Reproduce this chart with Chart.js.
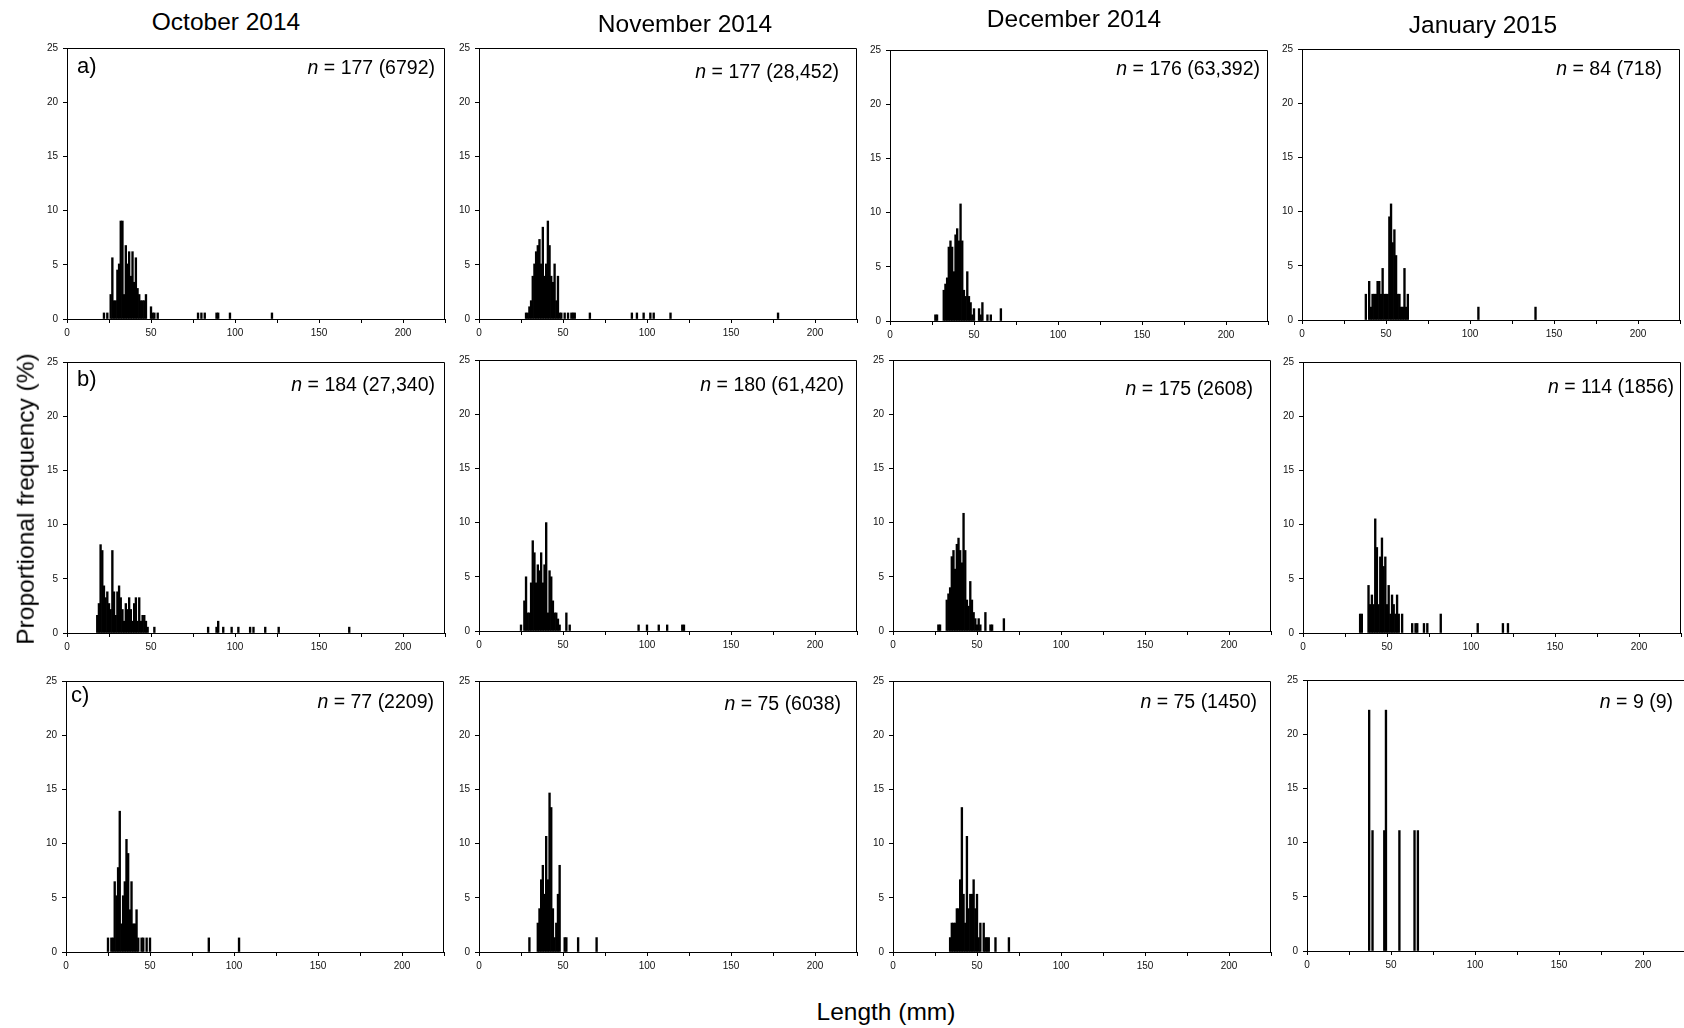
<!DOCTYPE html>
<html lang="en">
<head>
<meta charset="UTF-8">
<title>Length frequency distributions</title>
<script src="https://cdn.jsdelivr.net/npm/chart.js"></script>
<style>
  html, body { margin: 0; padding: 0; background: #fff; overflow: hidden; }
  body { width: 1684px; height: 1028px; position: relative; font-family: "Liberation Sans", Arial, sans-serif; color: #000; }
  canvas { position: absolute; }
  .txt { position: absolute; white-space: nowrap; line-height: 1; }
  .title { font-size: 24.5px; transform: translate(-50%, -50%); }
  .nlab { font-size: 19.5px; transform: translate(-100%, -50%); }
  .plab { font-size: 22px; transform: translateY(-50%); }
  .ylab { font-size: 24.5px; transform: translate(-50%, -50%) rotate(-90deg); }
  .xlab { font-size: 24.5px; transform: translate(-50%, -50%); }
</style>
</head>
<body>

<script>
// ---- data: length class (mm) and proportional frequency (%) per panel ----
const months = ['October 2014', 'November 2014', 'December 2014', 'January 2015'];
const rowLetters = ['a)', 'b)', 'c)'];
const nText = [
  ['177 (6792)', '177 (28,452)', '176 (63,392)', '84 (718)'],
  ['184 (27,340)', '180 (61,420)', '175 (2608)', '114 (1856)'],
  ['77 (2209)', '75 (6038)', '75 (1450)', '9 (9)']
];
const yTicks = [0, 5, 10, 15, 20, 25];
const xTickLabels = [0, 50, 100, 150, 200];

// row a)
const lenOctA = [22,24,26,27,28,29,30,31,32,33,34,35,36,37,38,39,40,41,42,43,44,45,46,47,50,51,52,54,78,80,82,89,90,97,122];
const pctOctA = [0.56,0.56,2.26,5.65,1.69,1.69,4.52,5.08,9.04,9.04,2.26,6.78,5.08,6.21,3.95,6.21,3.39,5.65,2.82,2.26,1.69,1.69,1.69,2.26,1.13,0.56,0.56,0.56,0.56,0.56,0.56,0.56,0.56,0.56,0.56];
const lenNovA = [28,29,30,31,32,33,34,35,36,37,38,39,40,41,42,43,44,45,46,47,48,49,51,53,55,56,57,66,91,94,98,102,104,114,178];
const pctNovA = [0.56,0.56,1.13,1.69,3.95,5.08,6.21,6.78,7.34,5.08,8.47,3.95,5.08,9.04,6.78,3.95,3.39,5.08,1.69,3.95,0.56,0.56,0.56,0.56,0.56,0.56,0.56,0.56,0.56,0.56,0.56,0.56,0.56,0.56,0.56];
const lenDecA = [27,28,32,33,34,35,36,37,38,39,40,41,42,43,44,45,46,47,48,49,50,53,54,55,58,60,66];
const pctDecA = [0.57,0.57,2.84,3.41,3.98,6.82,7.39,6.82,4.55,7.95,8.52,7.39,10.8,7.39,2.84,2.27,4.55,2.27,1.70,0.57,1.14,1.14,0.57,1.70,0.57,0.57,1.14];
const lenJanA = [38,40,41,42,43,44,45,46,47,48,49,50,51,52,53,54,55,56,57,58,59,60,61,62,63,105,139];
const pctJanA = [2.38,3.57,1.19,2.38,2.38,2.38,3.57,3.57,2.38,4.76,2.38,2.38,2.38,9.52,10.71,7.14,8.33,5.95,2.38,2.38,1.19,1.19,4.76,1.19,2.38,1.19,1.19];

// row b)
const lenOctB = [18,19,20,21,22,23,24,25,26,27,28,29,30,31,32,33,34,35,36,37,38,39,40,41,42,43,44,45,46,47,48,52,84,89,90,93,98,102,109,111,118,126,168];
const pctOctB = [1.63,2.72,8.15,7.61,4.35,3.26,3.80,2.72,2.17,7.61,3.80,1.63,3.80,4.35,3.26,2.17,1.09,2.72,2.17,3.26,2.17,1.09,2.72,3.26,1.09,3.26,1.09,1.63,1.63,1.09,0.54,0.54,0.54,0.54,1.09,0.54,0.54,0.54,0.54,0.54,0.54,0.54,0.54];
const lenNovB = [25,27,28,29,30,31,32,33,34,35,36,37,38,39,40,41,42,43,44,45,46,47,48,52,54,95,100,107,112,121,122];
const pctNovB = [0.56,2.78,5.00,1.67,1.67,4.44,8.33,7.22,4.44,6.11,5.56,7.22,4.44,6.11,10.0,1.67,5.56,5.00,2.78,1.67,1.67,1.11,0.56,1.67,0.56,0.56,0.56,0.56,0.56,0.56,0.56];
const lenDecB = [27,28,32,33,34,35,36,37,38,39,40,41,42,43,44,45,46,47,48,49,50,51,52,55,58,59,66];
const pctDecB = [0.57,0.57,2.86,3.43,4.00,6.86,7.43,5.71,8.00,8.57,7.43,6.29,10.86,7.43,2.86,2.29,4.57,2.86,1.71,1.14,0.57,1.14,0.57,1.71,0.57,0.57,1.14];
const lenJanB = [34,35,39,40,41,42,43,44,45,46,47,48,49,50,51,52,53,54,55,56,57,59,65,67,68,72,74,82,104,119,122];
const pctJanB = [1.75,1.75,4.39,2.63,3.51,2.63,10.53,7.89,2.63,7.02,8.77,6.14,7.02,2.63,4.39,1.75,3.51,2.63,1.75,3.51,1.75,1.75,0.88,0.88,0.88,0.88,0.88,1.75,0.88,0.88,0.88];

// row c)
const lenOctC = [25,27,28,29,30,31,32,33,34,35,36,37,38,39,40,41,42,43,45,46,48,50,85,103];
const pctOctC = [1.30,1.30,1.30,6.49,5.19,7.79,12.99,2.60,5.19,6.49,10.39,9.09,3.90,6.49,2.60,2.60,3.90,1.30,1.30,1.30,1.30,1.30,1.30,1.30];
const lenNovC = [30,35,36,37,38,39,40,41,42,43,44,45,46,47,48,51,52,59,70];
const pctNovC = [1.33,2.67,4.00,6.67,8.00,5.33,10.67,6.67,14.67,13.33,4.00,1.33,2.67,5.33,8.00,1.33,1.33,1.33,1.33];
const lenDecC = [34,35,36,37,38,39,40,41,42,43,44,45,46,47,48,49,50,51,52,54,55,56,57,61,69];
const pctDecC = [1.33,2.67,2.67,2.67,4.00,4.00,6.67,13.33,5.33,2.67,10.67,4.00,5.33,5.33,6.67,4.00,5.33,1.33,2.67,2.67,1.33,1.33,1.33,1.33,1.33];
const lenJanC = [37,39,46,47,55,64,66];
const pctJanC = [22.22,11.11,11.11,22.22,11.11,11.11,11.11];

const lens = [[lenOctA, lenNovA, lenDecA, lenJanA], [lenOctB, lenNovB, lenDecB, lenJanB], [lenOctC, lenNovC, lenDecC, lenJanC]];
const pcts = [[pctOctA, pctNovA, pctDecA, pctJanA], [pctOctB, pctNovB, pctDecB, pctJanB], [pctOctC, pctNovC, pctDecC, pctJanC]];

// ---- layout (page pixels) ----
const plotLeft = [[67, 479, 890, 1302], [67, 479, 893, 1303], [66, 479, 893, 1307]];
const plotBottom = [[319, 319, 321, 320], [633, 631, 631, 633], [952, 952, 952, 951]];
const plotW = 379, plotH = 274;
const padL = 34, padT = 8, padR = 3, padB = 24;
const nPos = [
  [[435, 68], [839, 72], [1260, 69], [1662, 69]],
  [[435, 385], [844, 385], [1253, 389], [1674, 387]],
  [[434, 702], [841, 704], [1257, 702], [1673, 702]]
];
const titlePos = [[226, 22], [685, 24], [1074, 19], [1483, 25]];
const letterPos = [[77, 66], [77, 379], [71, 695]];

Chart.defaults.font.family = '"Liberation Sans", Arial, sans-serif';
Chart.defaults.font.size = 10;
Chart.defaults.color = '#111';

const frame = {
  id: 'frame',
  afterDraw(c) {
    const a = c.chartArea, ctx = c.ctx;
    ctx.save();
    ctx.strokeStyle = '#000';
    ctx.lineWidth = 1;
    ctx.beginPath();
    ctx.moveTo(a.left, a.top + 0.5);
    ctx.lineTo(a.right - 0.5, a.top + 0.5);
    ctx.lineTo(a.right - 0.5, a.bottom);
    ctx.stroke();
    ctx.restore();
  }
};

function addText(cls, html, x, y) {
  const d = document.createElement('div');
  d.className = 'txt ' + cls;
  d.innerHTML = html;
  d.style.left = x + 'px';
  d.style.top = y + 'px';
  document.body.appendChild(d);
}

for (let r = 0; r < 3; r++) {
  for (let c = 0; c < 4; c++) {
    const cv = document.createElement('canvas');
    cv.width = plotW + padL + padR;
    cv.height = plotH + padT + padB;
    cv.style.left = (plotLeft[r][c] - padL) + 'px';
    cv.style.top = (plotBottom[r][c] - plotH - padT) + 'px';
    document.body.appendChild(cv);

    const pts = lens[r][c].map((x, i) => ({ x, y: pcts[r][c][i] }));

    new Chart(cv, {
      type: 'bar',
      data: {
        datasets: [{
          data: pts,
          backgroundColor: '#000',
          borderWidth: 0,
          barThickness: 1.7,
          grouped: false
        }]
      },
      options: {
        responsive: false,
        animation: false,
        events: [],
        layout: { padding: { left: 0, top: padT, right: padR, bottom: 0 } },
        plugins: { legend: { display: false }, tooltip: { enabled: false } },
        scales: {
          x: {
            type: 'linear',
            min: 0, max: 225,
            offset: false,
            grid: { display: true, offset: false, drawOnChartArea: false, drawTicks: true, tickLength: 4, color: '#000' },
            border: { display: true, color: '#000', width: 1 },
            ticks: {
              stepSize: 25, autoSkip: false, maxRotation: 0, padding: 4,
              callback: v => xTickLabels.includes(v) ? String(v) : ''
            },
            afterFit: s => { s.height = padB; }
          },
          y: {
            min: 0, max: 25,
            grid: { display: true, drawOnChartArea: false, drawTicks: true, tickLength: 4, color: '#000' },
            border: { display: true, color: '#000', width: 1 },
            ticks: {
              stepSize: 5, autoSkip: false, padding: 5,
              callback: v => yTicks.includes(v) ? String(v) : ''
            },
            afterFit: s => { s.width = padL; }
          }
        }
      },
      plugins: [frame]
    });

    addText('nlab', '<i>n</i> = ' + nText[r][c], nPos[r][c][0], nPos[r][c][1]);
  }
  addText('plab', rowLetters[r], letterPos[r][0], letterPos[r][1]);
}

months.forEach((m, i) => addText('title', m, titlePos[i][0], titlePos[i][1]));
addText('ylab', 'Proportional frequency (%)', 26, 499);
addText('xlab', 'Length (mm)', 886, 1012);
</script>
</body>
</html>
